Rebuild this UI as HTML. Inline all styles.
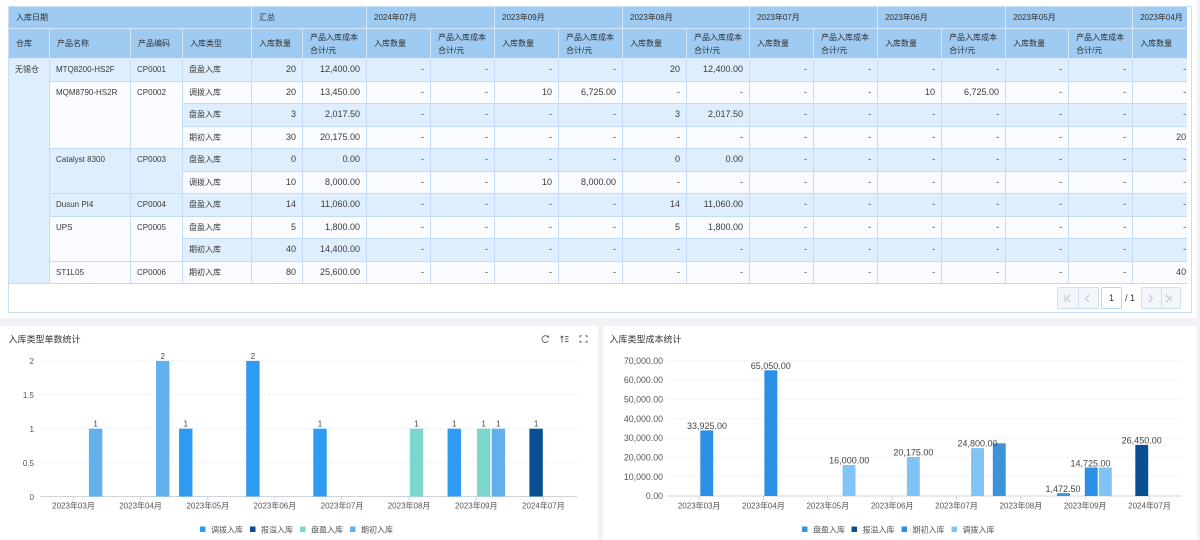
<!DOCTYPE html>
<html><head><meta charset="utf-8">
<style>
*{margin:0;padding:0;box-sizing:border-box}
body{width:1200px;height:539px;overflow:hidden;background:#f0f2f5;font-family:"Liberation Sans","Noto Sans CJK SC",sans-serif;position:relative;color:#333}
.card{position:absolute;background:#fff}
.wrap{position:absolute;left:8px;top:6px;width:1184px;height:307px;border:1px solid #c6dff5;overflow:hidden;background:#fff}
.scroll{position:absolute;left:-1px;top:-1px;width:1179px;height:279px;overflow:hidden}
table{border-collapse:collapse;table-layout:fixed;width:1184px}
th,td{font-weight:normal;font-size:8px;white-space:nowrap;overflow:hidden}
th{background:#9fcbf2;border:1px solid #d4e8f9;text-align:left;padding-left:7px;color:#2f2f2f;vertical-align:middle;line-height:13px}
tr.h1{height:22px}
tr.h2{height:30px}
td{border:1px solid #c2dcf3;padding:5px 6px 0 6px;line-height:12px;vertical-align:top;color:#3a3a3a;height:22.5px}
td.n{text-align:right;font-size:9px;padding-top:4px}
.b{background:#deeefc}
.w{background:#f9fbfe}
tr.b td{background:#deeefc}
tr.w td{background:#f9fbfe}
td.cb{background:#deeefc !important}
td.cw{background:#f9fbfe !important}
.pg{position:absolute;top:287px;height:22px;border:1px solid #cfe0f0;background:#f2f5f9;border-radius:2px}
.pg i{position:absolute;top:0;width:1px;height:20px;background:#cfe0f0}
</style></head><body>

<div class="card" style="left:0;top:0;width:1197px;height:318px"></div>
<div class="wrap">
<div class="scroll">
<table>
<colgroup>
<col style="width:41px"><col style="width:81px"><col style="width:52px"><col style="width:69px">
<col style="width:51px"><col style="width:64px">
<col style="width:64px"><col style="width:64px">
<col style="width:64px"><col style="width:64px">
<col style="width:64px"><col style="width:63px">
<col style="width:64px"><col style="width:64px">
<col style="width:64px"><col style="width:64px">
<col style="width:63px"><col style="width:64px">
<col style="width:60px">
</colgroup>
<thead>
<tr class="h1"><th colspan="4">入库日期</th><th colspan="2">汇总</th><th colspan="2">2024年07月</th><th colspan="2">2023年09月</th><th colspan="2">2023年08月</th><th colspan="2">2023年07月</th><th colspan="2">2023年06月</th><th colspan="2">2023年05月</th><th>2023年04月</th></tr>
<tr class="h2"><th>仓库</th><th>产品名称</th><th>产品编码</th><th>入库类型</th>
<th>入库数量</th><th>产品入库成本<br>合计/元</th>
<th>入库数量</th><th>产品入库成本<br>合计/元</th>
<th>入库数量</th><th>产品入库成本<br>合计/元</th>
<th>入库数量</th><th>产品入库成本<br>合计/元</th>
<th>入库数量</th><th>产品入库成本<br>合计/元</th>
<th>入库数量</th><th>产品入库成本<br>合计/元</th>
<th>入库数量</th><th>产品入库成本<br>合计/元</th>
<th>入库数量</th></tr>
</thead>
<tbody>
<tr class="b"><td class="cb" rowspan="10">无锡仓</td><td>MTQ8200-HS2F</td><td>CP0001</td><td>盘盈入库</td><td class="n">20</td><td class="n">12,400.00</td><td class="n">-</td><td class="n">-</td><td class="n">-</td><td class="n">-</td><td class="n">20</td><td class="n">12,400.00</td><td class="n">-</td><td class="n">-</td><td class="n">-</td><td class="n">-</td><td class="n">-</td><td class="n">-</td><td class="n">-</td></tr>
<tr class="w"><td class="cw" rowspan="3">MQM8790-HS2R</td><td class="cw" rowspan="3">CP0002</td><td>调拨入库</td><td class="n">20</td><td class="n">13,450.00</td><td class="n">-</td><td class="n">-</td><td class="n">10</td><td class="n">6,725.00</td><td class="n">-</td><td class="n">-</td><td class="n">-</td><td class="n">-</td><td class="n">10</td><td class="n">6,725.00</td><td class="n">-</td><td class="n">-</td><td class="n">-</td></tr>
<tr class="b"><td>盘盈入库</td><td class="n">3</td><td class="n">2,017.50</td><td class="n">-</td><td class="n">-</td><td class="n">-</td><td class="n">-</td><td class="n">3</td><td class="n">2,017.50</td><td class="n">-</td><td class="n">-</td><td class="n">-</td><td class="n">-</td><td class="n">-</td><td class="n">-</td><td class="n">-</td></tr>
<tr class="w"><td>期初入库</td><td class="n">30</td><td class="n">20,175.00</td><td class="n">-</td><td class="n">-</td><td class="n">-</td><td class="n">-</td><td class="n">-</td><td class="n">-</td><td class="n">-</td><td class="n">-</td><td class="n">-</td><td class="n">-</td><td class="n">-</td><td class="n">-</td><td class="n">20</td></tr>
<tr class="b"><td class="cb" rowspan="2">Catalyst 8300</td><td class="cb" rowspan="2">CP0003</td><td>盘盈入库</td><td class="n">0</td><td class="n">0.00</td><td class="n">-</td><td class="n">-</td><td class="n">-</td><td class="n">-</td><td class="n">0</td><td class="n">0.00</td><td class="n">-</td><td class="n">-</td><td class="n">-</td><td class="n">-</td><td class="n">-</td><td class="n">-</td><td class="n">-</td></tr>
<tr class="w"><td>调拨入库</td><td class="n">10</td><td class="n">8,000.00</td><td class="n">-</td><td class="n">-</td><td class="n">10</td><td class="n">8,000.00</td><td class="n">-</td><td class="n">-</td><td class="n">-</td><td class="n">-</td><td class="n">-</td><td class="n">-</td><td class="n">-</td><td class="n">-</td><td class="n">-</td></tr>
<tr class="b"><td>Dusun PI4</td><td>CP0004</td><td>盘盈入库</td><td class="n">14</td><td class="n">11,060.00</td><td class="n">-</td><td class="n">-</td><td class="n">-</td><td class="n">-</td><td class="n">14</td><td class="n">11,060.00</td><td class="n">-</td><td class="n">-</td><td class="n">-</td><td class="n">-</td><td class="n">-</td><td class="n">-</td><td class="n">-</td></tr>
<tr class="w"><td class="cw" rowspan="2">UPS</td><td class="cw" rowspan="2">CP0005</td><td>盘盈入库</td><td class="n">5</td><td class="n">1,800.00</td><td class="n">-</td><td class="n">-</td><td class="n">-</td><td class="n">-</td><td class="n">5</td><td class="n">1,800.00</td><td class="n">-</td><td class="n">-</td><td class="n">-</td><td class="n">-</td><td class="n">-</td><td class="n">-</td><td class="n">-</td></tr>
<tr class="b"><td>期初入库</td><td class="n">40</td><td class="n">14,400.00</td><td class="n">-</td><td class="n">-</td><td class="n">-</td><td class="n">-</td><td class="n">-</td><td class="n">-</td><td class="n">-</td><td class="n">-</td><td class="n">-</td><td class="n">-</td><td class="n">-</td><td class="n">-</td><td class="n">-</td></tr>
<tr class="w"><td>ST1L05</td><td>CP0006</td><td>期初入库</td><td class="n">80</td><td class="n">25,600.00</td><td class="n">-</td><td class="n">-</td><td class="n">-</td><td class="n">-</td><td class="n">-</td><td class="n">-</td><td class="n">-</td><td class="n">-</td><td class="n">-</td><td class="n">-</td><td class="n">-</td><td class="n">-</td><td class="n">40</td></tr>
</tbody>
</table>
</div>
</div>

<!-- pagination -->
<div class="pg" style="left:1057px;width:42px"><i style="left:20px"></i></div>
<div style="position:absolute;left:1101px;top:287px;width:21px;height:22px;border:1px solid #b9d7f2;background:#fff;border-radius:2px;font-size:9px;line-height:20px;text-align:center;color:#333">1</div>
<div style="position:absolute;left:1125px;top:287px;height:22px;font-size:9px;line-height:22px;color:#333">/ 1</div>
<div class="pg" style="left:1141px;width:40px"><i style="left:19px"></i></div>

<div class="card" style="left:0;top:325.5px;width:597.5px;height:214px"></div>
<div class="card" style="left:603px;top:325.5px;width:594px;height:214px"></div>

<svg style="position:absolute;left:0;top:0" width="1200" height="539" viewBox="0 0 1200 539" font-family="Liberation Sans, Noto Sans CJK SC, sans-serif">
<!-- pagination glyphs -->
<g stroke="#b8c2cc" stroke-width="0.9" fill="none">
<line x1="1065" y1="295" x2="1065" y2="302"/><polyline points="1070,295 1066.5,298.5 1070,302"/>
<polyline points="1089,295 1085.5,298.5 1089,302"/>
<polyline points="1149,295 1152.5,298.5 1149,302"/>
<polyline points="1166,295 1169.5,298.5 1166,302"/><line x1="1171" y1="295" x2="1171" y2="302"/>
</g>

<!-- LEFT CHART -->
<text x="8.5" y="342.5" font-size="9" fill="#333">入库类型单数统计</text>
<g stroke="#555" stroke-width="0.9" fill="none">
<path d="M548.2,337.2 A3.4,3.4 0 1 0 548.3,340.8"/>
<polyline points="547,336.6 548.4,337.2 548.8,335.6"/>
<line x1="562" y1="336" x2="562" y2="342.5"/><polyline points="560.5,337.5 562,336 563.5,337.5"/>
<line x1="565" y1="336.5" x2="568.5" y2="336.5"/><line x1="565" y1="339" x2="568.5" y2="339"/><line x1="565" y1="341.5" x2="568.5" y2="341.5"/>
<polyline points="580,337.5 580,335.8 581.7,335.8"/><polyline points="585.3,335.8 587,335.8 587,337.5"/>
<polyline points="580,340.5 580,342.2 581.7,342.2"/><polyline points="585.3,342.2 587,342.2 587,340.5"/>
</g>
<g stroke="#e3e7ee" stroke-width="0.8" stroke-dasharray="2,2">
<line x1="40" y1="360.9" x2="577" y2="360.9"/>
<line x1="40" y1="394.8" x2="577" y2="394.8"/>
<line x1="40" y1="428.7" x2="577" y2="428.7"/>
<line x1="40" y1="462.6" x2="577" y2="462.6"/>
</g>
<line x1="40" y1="496.5" x2="577" y2="496.5" stroke="#cfd4db" stroke-width="1"/>
<g stroke="#cfd4db" stroke-width="1">
<line x1="73.5" y1="496.5" x2="73.5" y2="500.5"/><line x1="140.6" y1="496.5" x2="140.6" y2="500.5"/>
<line x1="207.8" y1="496.5" x2="207.8" y2="500.5"/><line x1="274.9" y1="496.5" x2="274.9" y2="500.5"/>
<line x1="342" y1="496.5" x2="342" y2="500.5"/><line x1="409.1" y1="496.5" x2="409.1" y2="500.5"/>
<line x1="476.3" y1="496.5" x2="476.3" y2="500.5"/><line x1="543.4" y1="496.5" x2="543.4" y2="500.5"/>
</g>
<g font-size="8" fill="#555" text-anchor="end">
<text x="34" y="364">2</text><text x="34" y="398">1.5</text><text x="34" y="432">1</text><text x="34" y="466">0.5</text><text x="34" y="500">0</text>
</g>
<g font-size="8" fill="#555" text-anchor="middle">
<text x="73.5" y="508.5">2023年03月</text><text x="140.6" y="508.5">2023年04月</text>
<text x="207.8" y="508.5">2023年05月</text><text x="274.9" y="508.5">2023年06月</text>
<text x="342" y="508.5">2023年07月</text><text x="409.1" y="508.5">2023年08月</text>
<text x="476.3" y="508.5">2023年09月</text><text x="543.4" y="508.5">2024年07月</text>
</g>
<g>
<rect x="88.9" y="428.7" width="13.4" height="67.8" fill="#62b0ec"/>
<rect x="156" y="360.9" width="13.4" height="135.6" fill="#62b0ec"/>
<rect x="179.05" y="428.7" width="13.4" height="67.8" fill="#2f9bf0"/>
<rect x="246.2" y="360.9" width="13.4" height="135.6" fill="#2f9bf0"/>
<rect x="313.3" y="428.7" width="13.4" height="67.8" fill="#2f9bf0"/>
<rect x="409.8" y="428.7" width="13.4" height="67.8" fill="#7dd6cc"/>
<rect x="447.55" y="428.7" width="13.4" height="67.8" fill="#2f9bf0"/>
<rect x="476.95" y="428.7" width="13.4" height="67.8" fill="#7dd6cc"/>
<rect x="491.65" y="428.7" width="13.4" height="67.8" fill="#62b0ec"/>
<rect x="529.4" y="428.7" width="13.4" height="67.8" fill="#0b4f93"/>
</g>
<g font-size="8" fill="#444" text-anchor="middle">
<text x="95.6" y="426.5">1</text>
<text x="162.7" y="358.8">2</text>
<text x="185.75" y="426.5">1</text>
<text x="252.9" y="358.8">2</text>
<text x="320" y="426.5">1</text>
<text x="416.5" y="426.5">1</text>
<text x="454.25" y="426.5">1</text>
<text x="483.65" y="426.5">1</text>
<text x="498.35" y="426.5">1</text>
<text x="536.1" y="426.5">1</text>
</g>
<g font-size="8" fill="#555">
<rect x="200" y="526.5" width="5.5" height="5.5" fill="#2f9bf0"/><text x="211" y="532.3">调拨入库</text>
<rect x="250" y="526.5" width="5.5" height="5.5" fill="#0b4f93"/><text x="261" y="532.3">报溢入库</text>
<rect x="300" y="526.5" width="5.5" height="5.5" fill="#7dd6cc"/><text x="311" y="532.3">盘盈入库</text>
<rect x="350" y="526.5" width="5.5" height="5.5" fill="#62b0ec"/><text x="361" y="532.3">期初入库</text>
</g>

<!-- RIGHT CHART -->
<text x="609.5" y="342.5" font-size="9" fill="#333">入库类型成本统计</text>
<g stroke="#e3e7ee" stroke-width="0.8" stroke-dasharray="2,2">
<line x1="667" y1="360.7" x2="1182" y2="360.7"/>
<line x1="667" y1="380" x2="1182" y2="380"/>
<line x1="667" y1="399.3" x2="1182" y2="399.3"/>
<line x1="667" y1="418.7" x2="1182" y2="418.7"/>
<line x1="667" y1="438" x2="1182" y2="438"/>
<line x1="667" y1="457.3" x2="1182" y2="457.3"/>
<line x1="667" y1="476.7" x2="1182" y2="476.7"/>
</g>
<line x1="667" y1="496" x2="1182" y2="496" stroke="#cfd4db" stroke-width="1"/>
<g stroke="#cfd4db" stroke-width="1">
<line x1="699.2" y1="496" x2="699.2" y2="500"/><line x1="763.5" y1="496" x2="763.5" y2="500"/>
<line x1="827.8" y1="496" x2="827.8" y2="500"/><line x1="892.2" y1="496" x2="892.2" y2="500"/>
<line x1="956.5" y1="496" x2="956.5" y2="500"/><line x1="1020.9" y1="496" x2="1020.9" y2="500"/>
<line x1="1085.2" y1="496" x2="1085.2" y2="500"/><line x1="1149.5" y1="496" x2="1149.5" y2="500"/>
</g>
<g font-size="8.8" fill="#555" text-anchor="end">
<text x="663" y="363.8">70,000.00</text>
<text x="663" y="383.1">60,000.00</text>
<text x="663" y="402.4">50,000.00</text>
<text x="663" y="421.8">40,000.00</text>
<text x="663" y="441.1">30,000.00</text>
<text x="663" y="460.4">20,000.00</text>
<text x="663" y="479.8">10,000.00</text>
<text x="663" y="499.1">0.00</text>
</g>
<g font-size="8" fill="#555" text-anchor="middle">
<text x="699.2" y="508.5">2023年03月</text><text x="763.5" y="508.5">2023年04月</text>
<text x="827.8" y="508.5">2023年05月</text><text x="892.2" y="508.5">2023年06月</text>
<text x="956.5" y="508.5">2023年07月</text><text x="1020.9" y="508.5">2023年08月</text>
<text x="1085.2" y="508.5">2023年09月</text><text x="1149.5" y="508.5">2024年07月</text>
</g>
<g>
<rect x="700.3" y="430.4" width="12.9" height="65.6" fill="#2b8fe5"/>
<rect x="764.4" y="370.3" width="12.9" height="125.7" fill="#2b8fe5"/>
<rect x="842.6" y="465.1" width="12.9" height="30.9" fill="#80c4f6"/>
<rect x="906.9" y="457" width="12.9" height="39" fill="#80c4f6"/>
<rect x="971.1" y="448.1" width="12.9" height="47.9" fill="#80c4f6"/>
<rect x="992.8" y="443.3" width="12.9" height="52.7" fill="#3a93dc"/>
<rect x="1057" y="493.2" width="12.9" height="2.8" fill="#3a93dc"/>
<rect x="1084.8" y="467.5" width="12.9" height="28.5" fill="#2b8fe5"/>
<rect x="1098.9" y="467.5" width="12.9" height="28.5" fill="#80c4f6"/>
<rect x="1135.3" y="444.9" width="12.9" height="51.1" fill="#0a4f92"/>
</g>
<g font-size="9" fill="#444" text-anchor="middle">
<text x="707" y="429">33,925.00</text>
<text x="770.8" y="369">65,050.00</text>
<text x="849.2" y="463.5">16,000.00</text>
<text x="913.4" y="455.3">20,175.00</text>
<text x="977.5" y="446.5">24,800.00</text>
<text x="1141.7" y="443.3">26,450.00</text>
<text x="1090.5" y="466.3">14,725.00</text>
<text x="1063" y="492">1,472.50</text>
</g>
<g font-size="8" fill="#555">
<rect x="802" y="526.5" width="5.5" height="5.5" fill="#3a93dc"/><text x="813" y="532.3">盘盈入库</text>
<rect x="851.5" y="526.5" width="5.5" height="5.5" fill="#0a4f92"/><text x="862.5" y="532.3">报溢入库</text>
<rect x="901.5" y="526.5" width="5.5" height="5.5" fill="#2b8fe5"/><text x="912.5" y="532.3">期初入库</text>
<rect x="951.5" y="526.5" width="5.5" height="5.5" fill="#80c4f6"/><text x="962.5" y="532.3">调拨入库</text>
</g>
</svg>
</body></html>
